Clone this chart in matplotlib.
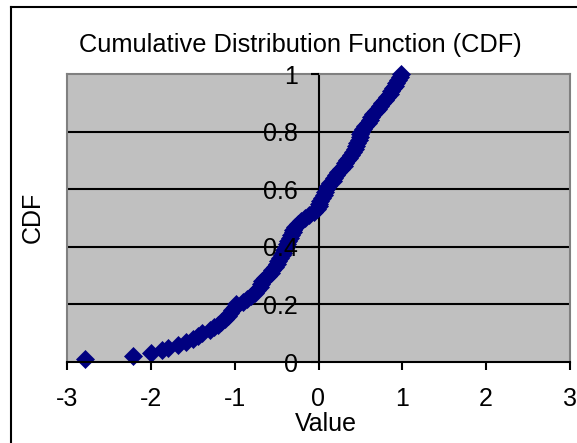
import numpy as np
import matplotlib
matplotlib.use('Agg')
import matplotlib.pyplot as plt
from matplotlib.lines import Line2D

plt.rcParams['font.family'] = ['Liberation Sans', 'DejaVu Sans']
plt.rcParams['axes.unicode_minus'] = False

# Sorted sample values and their cumulative probabilities
values = [
    -2.78, -2.21, -2.00, -1.87, -1.80, -1.68, -1.58, -1.50, -1.44, -1.39,
    -1.30, -1.25, -1.20, -1.16, -1.12, -1.08, -1.05, -1.03, -1.00, -0.98,
    -0.90, -0.85, -0.80, -0.76, -0.73, -0.70, -0.69, -0.67, -0.64, -0.60,
    -0.57, -0.55, -0.52, -0.50, -0.48, -0.46, -0.44, -0.42, -0.41, -0.39,
    -0.38, -0.36, -0.34, -0.33, -0.31, -0.30, -0.28, -0.25, -0.21, -0.16,
    -0.11, -0.05, -0.02, 0.00, 0.01, 0.02, 0.04, 0.06, 0.08, 0.09,
    0.11, 0.14, 0.17, 0.19, 0.21, 0.23, 0.27, 0.30, 0.32, 0.34,
    0.36, 0.39, 0.41, 0.43, 0.45, 0.46, 0.48, 0.49, 0.50, 0.51,
    0.53, 0.56, 0.59, 0.61, 0.63, 0.65, 0.68, 0.71, 0.73, 0.76,
    0.79, 0.82, 0.85, 0.87, 0.89, 0.91, 0.93, 0.95, 0.97, 0.99,
]
cdf = [(i + 1) / len(values) for i in range(len(values))]

x_ticks = [-3, -2, -1, 0, 1, 2, 3]
y_ticks = [0, 0.2, 0.4, 0.6, 0.8, 1]
y_tick_labels = ['0', '0.2', '0.4', '0.6', '0.8', '1']

W, H = 577, 443
fig = plt.figure(figsize=(W / 100, H / 100), dpi=100)

# chart frame: only the left and top edges fall inside the image
fx, fy = 11 / W, 1 - 7 / H
fig.lines.append(Line2D([fx, fx], [0, fy], transform=fig.transFigure,
                        color='black', linewidth=1.5))
fig.lines.append(Line2D([fx, 1], [fy, fy], transform=fig.transFigure,
                        color='black', linewidth=1.5))

ax = fig.add_axes([67 / W, (H - 362) / H, 503 / W, 288 / H])
ax.set_facecolor('#C0C0C0')

# markers sit above the frame and y axis line but below the tick labels
ax.plot(values, cdf, linestyle='none', marker='D', markersize=9.5,
        color='#000080', markeredgewidth=0.5, clip_on=False, zorder=2.3)

ax.set_xlim(-3, 3)
ax.set_ylim(0, 1)
ax.set_xticks(x_ticks)
ax.set_xticklabels([str(t) for t in x_ticks])
ax.set_yticks(y_ticks)
ax.set_yticklabels(y_tick_labels)
ax.yaxis.set_zorder(3)
ax.xaxis.set_zorder(3)

for y in y_ticks[1:-1]:
    ax.axhline(y, color='black', linewidth=1.5, zorder=1)

ax.spines['left'].set_position(('data', 0))
ax.spines['left'].set_linewidth(1.5)
ax.spines['bottom'].set_linewidth(1.5)
for side in ['top', 'right']:
    ax.spines[side].set_color('#808080')
    ax.spines[side].set_linewidth(1.5)
for side in ['left', 'top', 'right']:
    ax.spines[side].set_zorder(2)

# gray frame on the left edge of the plot area
ax.plot([0, 0], [0, 1], transform=ax.transAxes, color='#808080',
        linewidth=1.5, clip_on=False, zorder=2)

ax.tick_params(axis='y', direction='out', length=6, width=1.5,
               labelsize=18, pad=9)
ax.tick_params(axis='x', direction='out', length=6, width=1.5,
               labelsize=18, pad=12)

fig.text(300 / W, 1 - 45 / H, 'Cumulative Distribution Function (CDF)',
         ha='center', va='center', fontsize=18.3)
fig.text(326 / W, 1 - 424 / H, 'Value', ha='center', va='center', fontsize=18)
fig.text(33 / W, 1 - 217 / H, 'CDF', ha='center', va='center',
         rotation=90, fontsize=18)

fig.savefig('out.png', dpi=100)
